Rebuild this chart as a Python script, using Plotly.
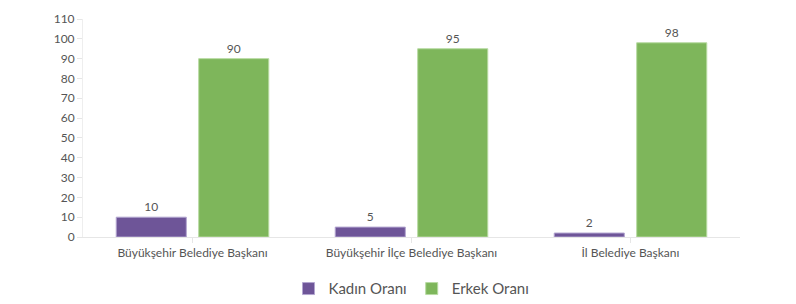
import plotly.graph_objects as go

categories = ["Büyükşehir Belediye Başkanı", "Büyükşehir İlçe Belediye Başkanı", "İl Belediye Başkanı"]
kadin = [10, 5, 2]
erkek = [90, 95, 98]
y_ticks = [0, 10, 20, 30, 40, 50, 60, 70, 80, 90, 100, 110]

FONT = "Lato"
TEXT_COLOR = "#555555"

fig = go.Figure()
fig.add_trace(go.Bar(
    name="Kadın Oranı", x=categories, y=kadin,
    text=kadin, textposition="outside", cliponaxis=False,
    marker=dict(color="#6e5598", line=dict(color="#b3a6d0", width=1)),
    textfont=dict(family=FONT, size=12, color=TEXT_COLOR),
))
fig.add_trace(go.Bar(
    name="Erkek Oranı", x=categories, y=erkek,
    text=erkek, textposition="outside", cliponaxis=False,
    marker=dict(color="#7eb65b", line=dict(color="#b8dba3", width=1)),
    textfont=dict(family=FONT, size=12, color=TEXT_COLOR),
))

fig.update_layout(
    width=796, height=304,
    margin=dict(l=83, r=56, t=19, b=67, autoexpand=False),
    paper_bgcolor="white", plot_bgcolor="white",
    barmode="group", bargap=0.247, bargroupgap=0.15,
    font=dict(family=FONT, size=12, color=TEXT_COLOR),
    legend=dict(orientation="h", x=0.5, xanchor="center",
                yref="container", y=0.05, yanchor="middle",
                font=dict(family=FONT, size=15, color=TEXT_COLOR),
                itemwidth=30, traceorder="normal"),
    showlegend=True,
)
fig.update_xaxes(
    showline=True, linecolor="#e6e6e6", linewidth=1,
    ticks="outside", ticklen=5, tickcolor="#e6e6e6",
    showgrid=False, tickfont=dict(family=FONT, size=12, color=TEXT_COLOR),
)
fig.update_yaxes(
    range=[0, 110], tickvals=y_ticks,
    showline=True, linecolor="#eeeeee", linewidth=1,
    ticks="outside", ticklen=5, tickcolor="#e6e6e6",
    showgrid=False, zeroline=False,
    tickfont=dict(family=FONT, size=12, color=TEXT_COLOR),
)

fig.write_html("out.html")
